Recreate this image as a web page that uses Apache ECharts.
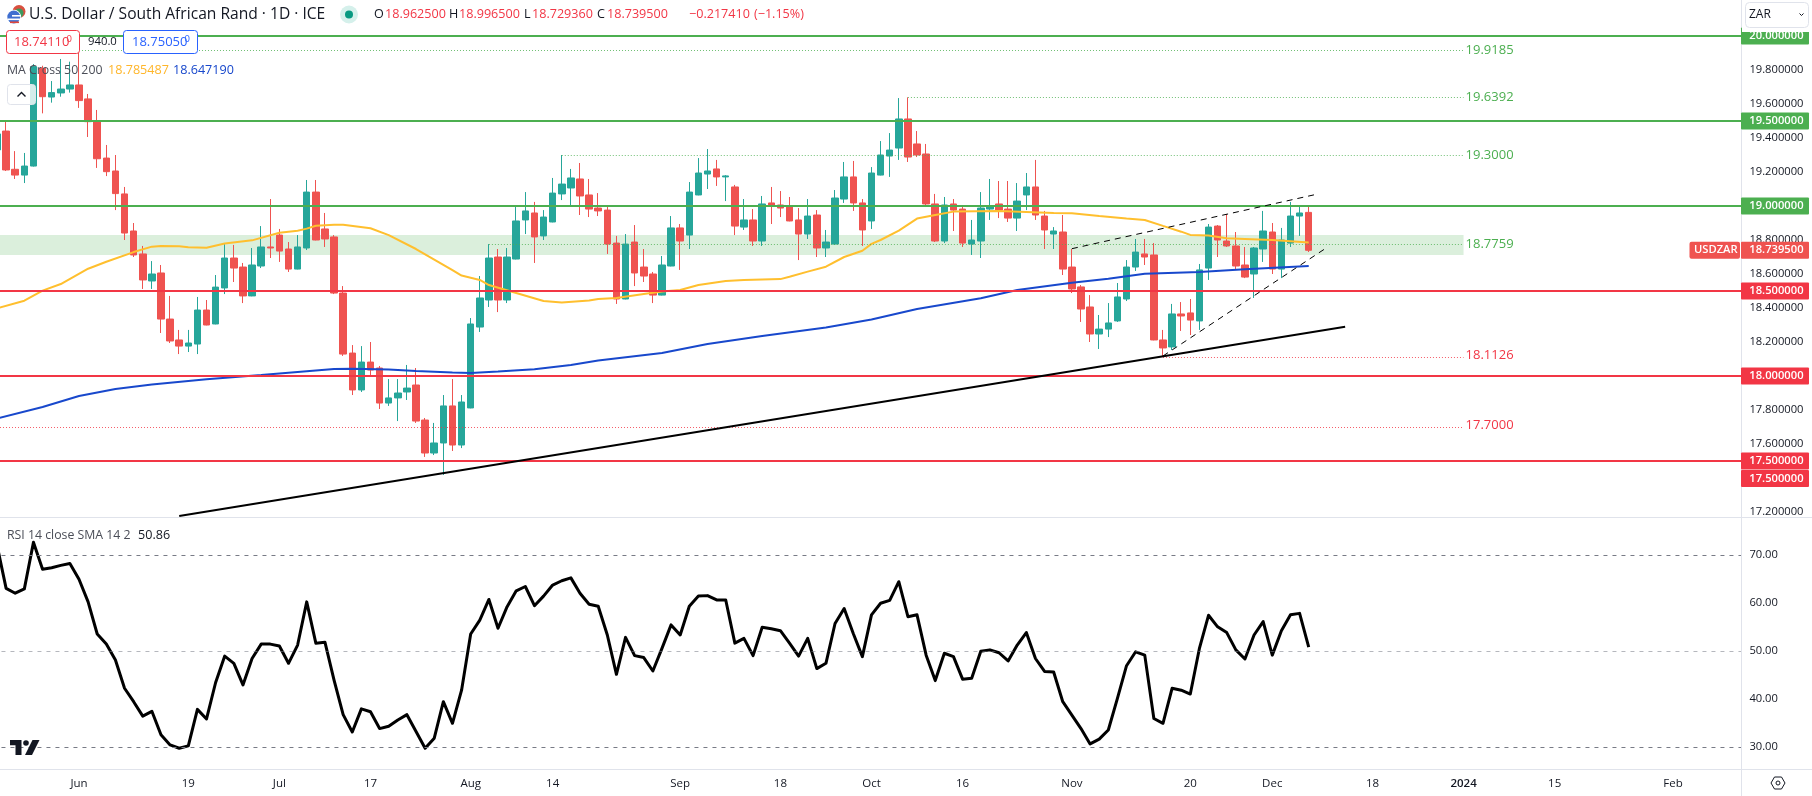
<!DOCTYPE html>
<html>
<head>
<meta charset="utf-8">
<style>html,body{margin:0;padding:0;background:#fff;overflow:hidden}#c{width:1812px;height:796px}</style>
<script src="https://cdn.jsdelivr.net/npm/echarts@6/dist/echarts.min.js"></script>
</head>
<body>
<div id="c"></div>
<script>
// ---- data ----
var tickLabels = {'2023-06-01':'Jun','2023-06-19':'19','2023-07-03':'Jul','2023-07-17':'17','2023-08-01':'Aug','2023-08-14':'14','2023-09-01':'Sep','2023-09-18':'18','2023-10-02':'Oct','2023-10-16':'16','2023-11-01':'Nov','2023-11-20':'20','2023-12-01':'Dec','2023-12-18':'18','2024-01-01':'2024','2024-01-15':'15','2024-02-01':'Feb'};
var priceTicks = [17.2,17.6,17.8,18.2,18.4,18.6,18.8,19.2,19.4,19.6,19.8];
var rsiTicks = [30,40,50,60,70];
var greenLevels = [20,19.5,19];
var redLevels = [18.5,18,17.5];
// [open, close, low, high]
var ohlc = [
[19.330,19.424,19.320,19.470],[19.441,19.212,19.206,19.496],[19.216,19.182,19.159,19.323],[19.182,19.235,19.135,19.312],
[19.235,19.820,19.232,19.835],[19.810,19.643,19.545,19.825],[19.641,19.667,19.608,19.735],[19.665,19.688,19.643,19.865],
[19.688,19.712,19.667,19.849],[19.712,19.620,19.577,19.9185],[19.630,19.496,19.406,19.659],[19.496,19.278,19.224,19.565],
[19.282,19.202,19.176,19.359],[19.206,19.073,18.976,19.300],[19.071,18.841,18.800,19.112],[18.853,18.712,18.700,18.900],
[18.718,18.565,18.512,18.765],[18.559,18.600,18.512,18.676],[18.606,18.335,18.253,18.653],[18.335,18.206,18.194,18.471],
[18.212,18.176,18.129,18.271],[18.176,18.194,18.141,18.271],[18.188,18.388,18.129,18.465],[18.388,18.300,18.298,18.447],
[18.306,18.523,18.304,18.594],[18.518,18.694,18.482,18.776],[18.694,18.635,18.553,18.771],[18.641,18.471,18.429,18.665],
[18.471,18.653,18.469,18.753],[18.647,18.759,18.635,18.882],[18.759,18.753,18.694,19.041],[18.829,18.735,18.671,18.865],
[18.747,18.629,18.612,18.788],[18.629,18.759,18.627,18.829],[18.753,19.082,18.741,19.153],[19.082,18.800,18.798,19.153],
[18.865,18.806,18.759,18.959],[18.818,18.488,18.482,18.829],[18.488,18.129,18.118,18.529],[18.135,17.918,17.888,18.182],
[17.918,18.082,17.906,18.176],[18.082,18.035,18.006,18.200],[18.047,17.841,17.806,18.059],[17.841,17.871,17.824,17.982],
[17.871,17.900,17.735,17.982],[17.906,17.929,17.859,18.065],[17.947,17.735,17.724,18.047],[17.741,17.547,17.524,17.753],
[17.547,17.606,17.535,17.724],[17.606,17.824,17.418,17.888],[17.824,17.594,17.559,17.982],[17.594,17.847,17.576,17.888],
[17.812,18.306,17.810,18.341],[18.288,18.459,18.259,18.588],[18.447,18.694,18.406,18.776],[18.700,18.447,18.376,18.747],
[18.447,18.700,18.429,18.753],[18.688,18.912,18.686,19.000],[18.918,18.971,18.835,19.082],[18.959,18.818,18.665,19.024],
[18.824,18.935,18.800,18.976],[18.906,19.076,18.904,19.165],[19.071,19.129,19.035,19.300],[19.106,19.165,19.000,19.218],
[19.159,19.059,18.947,19.253],[19.065,18.982,18.935,19.159],[18.988,18.971,18.941,19.076],[18.976,18.776,18.718,18.994],
[18.782,18.453,18.424,18.824],[18.453,18.776,18.451,18.835],[18.788,18.606,18.529,18.888],[18.641,18.588,18.553,18.747],
[18.600,18.476,18.429,18.612],[18.476,18.653,18.474,18.706],[18.647,18.871,18.645,18.941],[18.871,18.794,18.624,18.894],
[18.829,19.082,18.747,19.141],[19.065,19.194,19.063,19.282],[19.188,19.206,19.100,19.335],[19.218,19.171,19.118,19.271],
[19.171,19.177,19.029,19.182],[19.112,18.882,18.829,19.124],[18.876,18.918,18.859,19.041],[18.918,18.794,18.765,18.982],
[18.794,19.012,18.765,19.059],[19.018,19.000,18.894,19.112],[19.006,18.988,18.935,19.088],[19.000,18.912,18.910,19.053],
[18.918,18.835,18.682,18.988],[18.835,18.941,18.806,19.041],[18.947,18.753,18.700,18.976],[18.753,18.788,18.700,18.859],
[18.776,19.047,18.771,19.094],[19.041,19.171,19.018,19.259],[19.171,19.018,18.971,19.265],[19.018,18.859,18.765,19.041],
[18.912,19.194,18.865,19.229],[19.182,19.300,19.180,19.382],[19.294,19.329,19.171,19.429],[19.341,19.512,19.271,19.635],
[19.512,19.288,19.259,19.6392],[19.365,19.300,19.288,19.441],[19.306,19.012,18.994,19.365],[19.012,18.794,18.788,19.071],
[18.794,19.006,18.782,19.053],[19.012,18.976,18.853,19.041],[18.982,18.782,18.759,19.000],[18.776,18.800,18.712,18.918],
[18.794,18.988,18.694,19.082],[18.982,19.000,18.918,19.159],[19.012,18.976,18.929,19.147],[18.982,18.929,18.906,19.147],
[18.929,19.029,18.853,19.135],[19.065,19.112,18.976,19.194],[19.112,18.947,18.918,19.271],[18.941,18.859,18.747,18.971],
[18.835,18.853,18.747,18.876],[18.847,18.629,18.594,18.947],[18.641,18.512,18.488,18.747],[18.524,18.394,18.318,18.535],
[18.406,18.247,18.200,18.476],[18.247,18.276,18.159,18.359],[18.276,18.312,18.229,18.429],[18.324,18.465,18.318,18.547],
[18.453,18.641,18.441,18.682],[18.641,18.729,18.618,18.806],[18.718,18.700,18.653,18.806],[18.712,18.212,18.210,18.782],
[18.212,18.165,18.1126,18.271],[18.171,18.365,18.153,18.424],[18.365,18.353,18.265,18.435],[18.371,18.329,18.241,18.453],
[18.324,18.624,18.271,18.659],[18.635,18.876,18.565,18.894],[18.882,18.800,18.700,18.888],[18.794,18.765,18.759,18.953],
[18.765,18.647,18.624,18.847],[18.653,18.582,18.576,18.759],[18.600,18.753,18.459,18.759],[18.747,18.853,18.671,18.971],
[18.847,18.629,18.600,18.900],[18.629,18.800,18.576,18.871],[18.782,18.941,18.759,19.024],[18.941,18.959,18.824,18.994],
[18.9625,18.7395,18.72936,18.9965]
];
// [bar position, value]
var ma50 = [[0,18.398],[3,18.443],[5,18.502],[7,18.541],[10,18.631],[12,18.672],[15,18.729],[17,18.761],[18,18.765],[20,18.763],[21,18.757],[23,18.755],[25,18.780],[28,18.798],[31,18.843],[33,18.855],[34,18.867],[35,18.884],[37,18.890],[38,18.890],[41,18.869],[43,18.829],[46,18.747],[50,18.623],[51,18.591],[53,18.565],[54,18.535],[57,18.488],[60,18.441],[62,18.432],[65,18.444],[66,18.453],[68,18.459],[71,18.482],[73,18.497],[75,18.506],[77,18.535],[80,18.559],[82,18.565],[86,18.570],[87,18.584],[89,18.614],[91,18.643],[93,18.700],[95,18.737],[96,18.777],[97,18.800],[99,18.855],[101,18.926],[103,18.947],[105,18.967],[110,18.971],[116,18.959],[118,18.957],[121,18.941],[124,18.926],[126,18.918],[128,18.883],[130,18.849],[131,18.830],[133,18.826],[135,18.810],[137,18.806],[140,18.800],[144,18.7855]];
var ma200 = [[0,17.750],[5,17.818],[9,17.882],[13,17.924],[17,17.950],[23,17.981],[29,18.006],[33,18.024],[37,18.041],[39,18.043],[43,18.038],[46,18.029],[50,18.021],[52,18.018],[55,18.027],[59,18.040],[63,18.065],[66,18.091],[73,18.135],[78,18.188],[84,18.235],[91,18.285],[96,18.332],[101,18.394],[108,18.457],[112,18.506],[118,18.549],[122,18.572],[126,18.602],[132,18.612],[137,18.628],[144,18.6472]];
var rsi = [72.1,63.1,62.1,63.0,72.7,67.1,67.4,67.9,68.3,65.0,60.3,53.6,51.5,48.2,42.3,39.5,36.5,37.5,32.6,30.5,29.8,30.3,37.9,35.9,43.5,49.0,47.5,43.0,48.5,51.5,51.5,51.1,47.5,51.3,60.3,51.7,51.9,44.0,36.8,33.2,38.0,37.4,33.9,34.4,35.7,36.8,33.3,29.8,31.9,39.5,35.0,41.9,53.6,56.5,60.8,54.8,59.3,62.6,63.5,59.5,61.5,63.8,64.7,65.3,62.1,59.8,59.4,53.4,45.2,52.9,49.1,48.7,45.9,50.6,55.5,53.4,59.4,61.5,61.6,60.7,60.7,51.7,52.7,49.1,55.0,54.7,54.3,51.7,49.0,52.7,46.4,47.5,55.8,58.9,53.7,48.9,57.6,60.0,60.6,64.5,57.2,57.6,49.2,43.9,49.6,48.9,44.2,44.4,50.0,50.3,49.7,48.0,51.3,53.9,48.5,45.8,45.7,39.5,36.7,33.9,30.7,31.7,33.6,40.2,47.0,49.9,49.2,36.0,35.0,42.3,41.9,41.1,50.6,57.5,55.1,53.9,50.3,48.4,53.4,56.2,49.2,54.3,57.6,57.9,50.86];
// dotted level: [value, first bar, last bar]
var greenDotted = [[19.9185,9,161],[19.6392,100,161],[19.3,62,161],[18.7759,54,161]];
var redDotted = [[18.1126,128,161],[17.7,0,161]];
var zone = [18.8294,18.7118,0,161];
var trendLine = [[20,17.1765],[148,18.29]];
var wedgeUpper = [[118,18.7489],[145,19.0706]];
var wedgeLower = [[128,18.1176],[146,18.756]];
var lastPrice = 18.7395;

// ---- calendar of weekdays, first bar 2023-05-19 ----
var categories = [];
(function(){var d=Date.UTC(2023,4,19);while(categories.length<192){var t=new Date(d);if(t.getUTCDay()%6){categories.push(t.toISOString().slice(0,10));}d+=864e5;}})();

var GREEN='#4caf50', RED='#f23645', UP='#26a69a', DOWN='#ef5350', FONT='"Open Sans",sans-serif', INK='#131722', BORDER='#e0e3eb';
function pairs(a){return a.map(function(p){return [categories[p[0]],p[1]];});}
function seg(a,b){return [{coord:[categories[a[0]],a[1]]},{coord:[categories[b[0]],b[1]]}];}
function dotted(list,color,dim,dy){return list.map(function(l){
  var s=seg([l[1],l[0]],[l[2],l[0]]);
  s[0].label={show:true,position:'end',formatter:l[0].toFixed(4),color:color,opacity:1,fontFamily:FONT,fontSize:13,distance:2,offset:[0,dy]};
  s[0].lineStyle={color:dim,width:1,type:[1,2]};
  return s;});}
var hline=function(v,c){return {yAxis:v,lineStyle:{color:c,width:2,type:'solid'},label:{show:false}};};

var option={
  animation:false,
  backgroundColor:'#ffffff',
  textStyle:{fontFamily:FONT},
  grid:[
    {left:-7.54,width:1748.93,top:0,height:517,outerBoundsMode:'none',containLabel:false},
    {left:-7.54,width:1748.93,top:517,height:252,outerBoundsMode:'none',containLabel:false}
  ],
  xAxis:[
    {type:'category',gridIndex:0,data:categories,boundaryGap:true,axisLine:{show:false},axisTick:{show:false},axisLabel:{show:false},splitLine:{show:false}},
    {type:'category',gridIndex:1,data:categories,boundaryGap:true,axisLine:{show:false},axisTick:{show:false},splitLine:{show:false},
      axisLabel:{show:true,margin:9,fontSize:11.5,fontFamily:FONT,color:INK,interval:function(i,v){return !!tickLabels[v];},
        hideOverlap:false,formatter:function(v){var s=tickLabels[v]||'';return s==='2024'?'{b|2024}':s;},rich:{b:{fontWeight:600,fontSize:11.5,fontFamily:FONT,color:INK}}}}
  ],
  yAxis:[
    {type:'value',gridIndex:0,position:'right',min:17.1706,max:20.2118,scale:true,axisLine:{show:false},axisTick:{show:false},splitLine:{show:false},
      axisLabel:{show:true,margin:8,fontSize:11.2,fontFamily:FONT,color:INK,customValues:priceTicks,formatter:function(v){return v.toFixed(6);}}},
    {type:'value',gridIndex:1,position:'right',min:25.48,max:77.98,scale:true,axisLine:{show:false},axisTick:{show:false},splitLine:{show:false},
      axisLabel:{show:true,margin:8,fontSize:11.2,fontFamily:FONT,color:INK,customValues:rsiTicks,formatter:function(v){return v.toFixed(2);}}}
  ],
  series:[
    {name:'USDZAR',type:'candlestick',xAxisIndex:0,yAxisIndex:0,z:2,barWidth:7,silent:true,data:ohlc,
      itemStyle:{color:UP,color0:DOWN,borderColor:UP,borderColor0:DOWN,borderWidth:1}},
    {name:'MA 50',type:'line',xAxisIndex:0,yAxisIndex:0,z:3,data:pairs(ma50),symbol:'none',silent:true,lineStyle:{color:'#ffbf2e',width:2}},
    {name:'MA 200',type:'line',xAxisIndex:0,yAxisIndex:0,z:3,data:pairs(ma200),symbol:'none',silent:true,lineStyle:{color:'#1848cc',width:2}},
    {name:'Drawings',type:'line',xAxisIndex:0,yAxisIndex:0,z:4,data:[],silent:true,
      markArea:{silent:true,itemStyle:{color:'rgba(76,175,80,0.2)'},label:{show:false},
        data:[[{coord:[categories[zone[2]],zone[0]]},{coord:[categories[zone[3]],zone[1]]}]]},
      markLine:{silent:true,symbol:'none',animation:false,precision:4,
        data:greenLevels.map(function(v){return hline(v,GREEN);})
          .concat(redLevels.map(function(v){return hline(v,RED);}))
          .concat(dotted(greenDotted,GREEN,'rgba(76,175,80,.8)',0)).concat(dotted(redDotted,RED,'rgba(242,54,69,.8)',-2))
          .concat([
            (function(){var s=seg(trendLine[0],trendLine[1]);s[0].lineStyle={color:'#000',width:2,type:'solid'};s[0].label={show:false};return s;})(),
            (function(){var s=seg(wedgeUpper[0],wedgeUpper[1]);s[0].lineStyle={color:'#000',width:1,type:[6,5]};s[0].label={show:false};return s;})(),
            (function(){var s=seg(wedgeLower[0],wedgeLower[1]);s[0].lineStyle={color:'#000',width:1,type:[6,5]};s[0].label={show:false};return s;})()
          ])}},
    {name:'RSI',type:'line',xAxisIndex:1,yAxisIndex:1,z:3,data:rsi,symbol:'none',silent:true,lineStyle:{color:'#000',width:3,join:'round'},
      markLine:{silent:true,symbol:'none',animation:false,label:{show:false},
        data:[{yAxis:70,lineStyle:{color:'#787b86',width:1,type:[4,5]}},
              {yAxis:50,lineStyle:{color:'rgba(120,123,134,.55)',width:1,type:[4,5]}},
              {yAxis:30,lineStyle:{color:'#787b86',width:1,type:[4,5]}}]}}
  ]
};
var chart=echarts.init(document.getElementById('c'),null,{renderer:'canvas',width:1812,height:796});
chart.setOption(option);

// ---- chrome: header text, legends, price tags ----
function T(x,y,s,color,size,weight,align){return {type:'text',z:50,silent:true,style:{x:x,y:y,text:s,fill:color,fontSize:size||12,fontWeight:weight||400,fontFamily:FONT,textAlign:align||'left',textVerticalAlign:'middle'}};}
function R(x,y,w,h,fill,stroke,rad,z,op){return {type:'rect',z:z||40,silent:true,shape:{x:x,y:y,width:w,height:h,r:rad||0},style:{fill:fill,stroke:stroke||null,lineWidth:1,opacity:op==null?1:op}};}
function L(x1,y1,x2,y2,c){return {type:'line',z:30,silent:true,shape:{x1:x1,y1:y1,x2:x2,y2:y2},style:{stroke:c||BORDER,lineWidth:1}};}
function C(x,y,r,fill){return {type:'circle',z:50,silent:true,shape:{cx:x,cy:y,r:r},style:{fill:fill}};}
function P(pts,fill){return {type:'polygon',z:50,silent:true,shape:{points:pts},style:{fill:fill}};}
var g=[];
// panes
g.push(L(1741.5,0,1741.5,796),L(0,517.5,1812,517.5),L(0,769.5,1812,769.5));
// price tags
function tag(v,c,dy){var y=chart.convertToPixel({yAxisIndex:0},v)+(dy||0);
  g.push(R(1741,y-8.5,68,17,c,null,1,41));g.push(T(1749.3,y,v.toFixed(6),'#fff',11.2,600));}
greenLevels.forEach(function(v){tag(v,GREEN);});
redLevels.forEach(function(v){tag(v,RED);});
tag(redLevels[2],RED,17.5);
tag(lastPrice,DOWN);
var ly=chart.convertToPixel({yAxisIndex:0},lastPrice);
g.push(R(1689.5,ly-8.5,50.5,17,DOWN,null,2,41));g.push(T(1694,ly,'USDZAR','#fff',11.2,600));
// top-right cover and currency button
g.push(R(1742,0,70,32,'#fff',null,0,45));
g.push(R(1745.5,2.5,63,25,'#fff',BORDER,4,46));
g.push(T(1749,14.5,'ZAR',INK,12,400));
g.push({type:'polyline',z:50,silent:true,shape:{points:[[1799.5,13.5],[1801.5,15.5],[1803.5,13.5]]},style:{stroke:INK,lineWidth:1,fill:null}});
// flag
g.push(C(19,11.5,6.5,'#d9503f'));g.push(C(19,13,4.5,'#3c9a5f'));g.push(C(14,17,7.2,'#ffffff'));
g.push(C(13.8,17,6.5,'#3f6fd0'));
g.push(R(12,15,9,1.6,'#fff',null,0,51),R(8,18.5,13,1.6,'#fff',null,0,51));
g.push(R(10,21.5,9,1.6,'#e0473c',null,0,51));
// title and OHLC
g.push(T(29,14.5,'U.S. Dollar / South African Rand · 1D · ICE',INK,15.6));
g.push(C(349,14.5,9,'#d5f0eb'),C(349,14.5,4,'#089981'));
var vals=[['O',374,'18.962500',385],['H',449,'18.996500',459],['L',524,'18.729360',532],['C',597,'18.739500',607]];
vals.forEach(function(a){g.push(T(a[1],14.5,a[0],INK,12.6));g.push(T(a[3],14.5,a[2],RED,12.6));});
g.push(T(689,14.5,'−0.217410',RED,12.6),T(754,14.5,'(−1.15%)',RED,12.6));
// bid / ask boxes
g.push(R(6.5,30.5,73,23,'#fff',RED,3,42));
g.push(T(14,42,'18.74110',RED,13),T(66.5,39,'0',RED,9.5));
g.push(T(88,42,'940.0',INK,11.3));
g.push(R(123.5,30.5,74,23,'#fff','#2962ff',3,42));
g.push(T(132,42,'18.75050',"#2962ff",13),T(184.5,39,'0',"#2962ff",9.5));
// indicator legends
g.push(T(7,70.5,'MA Cross 50 200','#4a4d57',12.3));
g.push(T(108,70.5,'18.785487','#ffb62a',12.6),T(173,70.5,'18.647190','#1848cc',12.6));
g.push(R(7.5,84.5,28,20,'rgba(255,255,255,.8)',BORDER,3,42));
g.push({type:'polyline',z:50,silent:true,shape:{points:[[17.5,96.5],[21.5,92.5],[25.5,96.5]]},style:{stroke:INK,lineWidth:1.4,fill:null}});
g.push(T(7,535,'RSI 14 close SMA 14 2','#4a4d57',12.3),T(138,535,'50.86','#131722',12.6));
// logo
g.push(P([[10,740],[21.5,740],[21.5,755],[15.5,755],[15.5,745.2],[10,745.2]],'#131722'));
g.push(C(26,743,2.8,'#131722'));
g.push(P([[32.5,740],[39.5,740],[32,755],[25,755]],'#131722'));
// settings icon
g.push({type:'polygon',z:50,silent:true,shape:{points:[[1771,783],[1774.5,777],[1781.5,777],[1785,783],[1781.5,789],[1774.5,789]]},style:{fill:'#fff',stroke:INK,lineWidth:1}});
g.push({type:'circle',z:51,silent:true,shape:{cx:1778,cy:783,r:2},style:{fill:'#fff',stroke:INK,lineWidth:1}});
chart.setOption({graphic:g});
</script>
</body>
</html>
